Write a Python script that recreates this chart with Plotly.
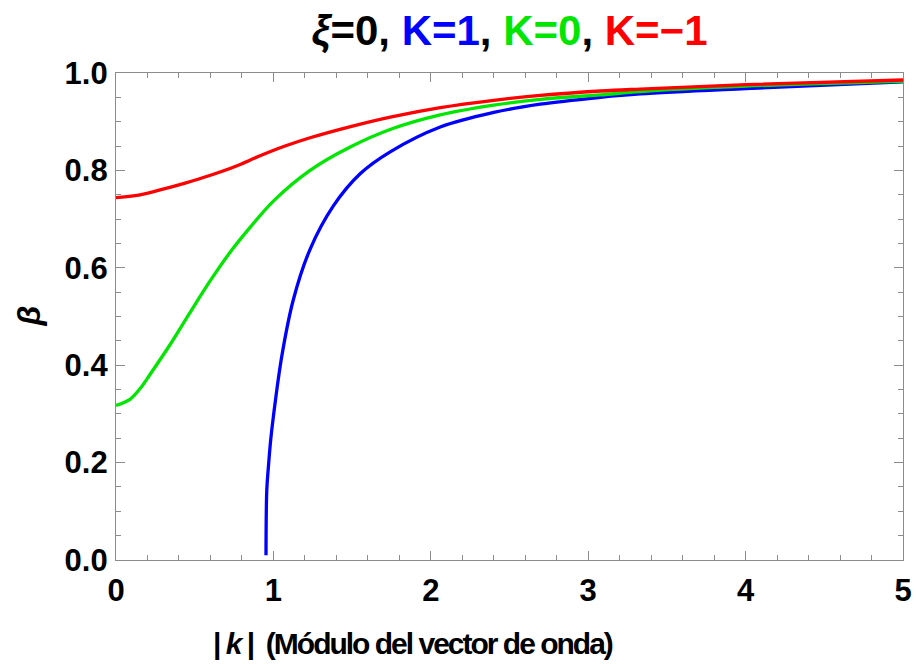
import plotly.graph_objects as go

# |k| values and beta for each spatial curvature K (xi = 0)
k_pos = [0.953, 0.958, 0.968, 0.983, 1.0, 1.053, 1.127, 1.233, 1.381, 1.551,
         1.742, 2.06, 2.4, 2.695, 3.077, 3.33, 4.0, 5.0]
beta_pos = [0.010, 0.144, 0.190, 0.247, 0.295, 0.418, 0.535, 0.638, 0.727, 0.793,
            0.838, 0.889, 0.919, 0.936, 0.950, 0.957, 0.968, 0.982]

k_flat = [0.0, 0.089, 0.153, 0.216, 0.343, 0.47, 0.598, 0.725, 0.852, 1.0, 1.233,
          1.488, 1.75, 2.06, 2.4, 2.695, 3.077, 3.33, 4.0, 5.0]
beta_flat = [0.3175, 0.330, 0.352, 0.381, 0.442, 0.508, 0.573, 0.632, 0.683, 0.737, 0.800,
             0.848, 0.885, 0.914, 0.934, 0.946, 0.955, 0.962, 0.973, 0.983]

k_neg = [0.0, 0.121, 0.28, 0.439, 0.6, 0.757, 0.915, 1.074, 1.233, 1.49, 1.75, 2.06,
         2.4, 2.695, 3.077, 3.33, 4.0, 5.0]
beta_neg = [0.744, 0.748, 0.760, 0.774, 0.790, 0.808, 0.830, 0.850, 0.867, 0.890, 0.910,
            0.929, 0.944, 0.954, 0.963, 0.967, 0.976, 0.9856]

x_ticks = [0, 1, 2, 3, 4, 5]
y_ticks = [0.0, 0.2, 0.4, 0.6, 0.8, 1.0]

BLUE, GREEN, RED = "#0000FF", "#00E600", "#FF0000"
FONT = "Liberation Sans, Arial, sans-serif"
FRAME = "#8c8c8c"

fig = go.Figure()
for xs, ys, col in [(k_pos, beta_pos, BLUE), (k_flat, beta_flat, GREEN), (k_neg, beta_neg, RED)]:
    fig.add_trace(go.Scatter(x=xs, y=ys, mode="lines",
                             line=dict(color=col, width=3.3, shape="spline", smoothing=1.0),
                             hoverinfo="skip", showlegend=False))

axis_common = dict(
    showgrid=False, zeroline=False, showline=True, linecolor=FRAME, linewidth=1.3,
    mirror="allticks", ticks="inside", ticklen=9, tickwidth=1.3, tickcolor=FRAME,
    automargin=False,
    tickfont=dict(family=FONT, size=31, color="black", weight="bold"),
)

fig.update_xaxes(range=[0, 5], tickvals=x_ticks, ticktext=[str(v) for v in x_ticks],
                 minor=dict(dtick=0.2, ticks="inside", ticklen=5, tickwidth=1.3, tickcolor=FRAME),
                 ticklabelstandoff=3, **axis_common)
fig.update_yaxes(range=[0, 1], tickvals=y_ticks, ticktext=[f"{v:.1f}" for v in y_ticks],
                 minor=dict(dtick=0.05, ticks="inside", ticklen=5, tickwidth=1.3, tickcolor=FRAME),
                 ticklabelstandoff=1, **axis_common)

title = ("<i>ξ</i>=0, "
         f"<span style='color:{BLUE}'>K=1</span>, "
         f"<span style='color:{GREEN}'>K=0</span>, "
         f"<span style='color:{RED}'>K=−1</span>")

x_title = ("<span style='letter-spacing:-2px'>| <i>k</i> |  "
           "(Módulo del vector de onda)</span>")

fig.update_layout(
    width=916, height=664,
    margin=dict(l=116, r=13, t=73, b=104),
    paper_bgcolor="white", plot_bgcolor="white",
    title=dict(text=title, x=0.5, xref="paper", xanchor="center",
               y=1 - 30 / 664, yref="container", yanchor="middle",
               font=dict(family=FONT, size=42, color="black", weight="bold")),
    annotations=[
        dict(text=x_title, xref="paper", yref="paper",
             x=(211 - 116) / 787, y=0, xanchor="left", yanchor="middle", yshift=-83,
             showarrow=False,
             font=dict(family=FONT, size=30, color="black", weight="bold")),
        dict(text="<i>β</i>", xref="paper", yref="paper", x=0, y=0.5,
             xanchor="center", yanchor="middle", xshift=-88, textangle=-90,
             showarrow=False,
             font=dict(family=FONT, size=32, color="black", weight="bold")),
    ],
)

fig.write_html("out.html")
